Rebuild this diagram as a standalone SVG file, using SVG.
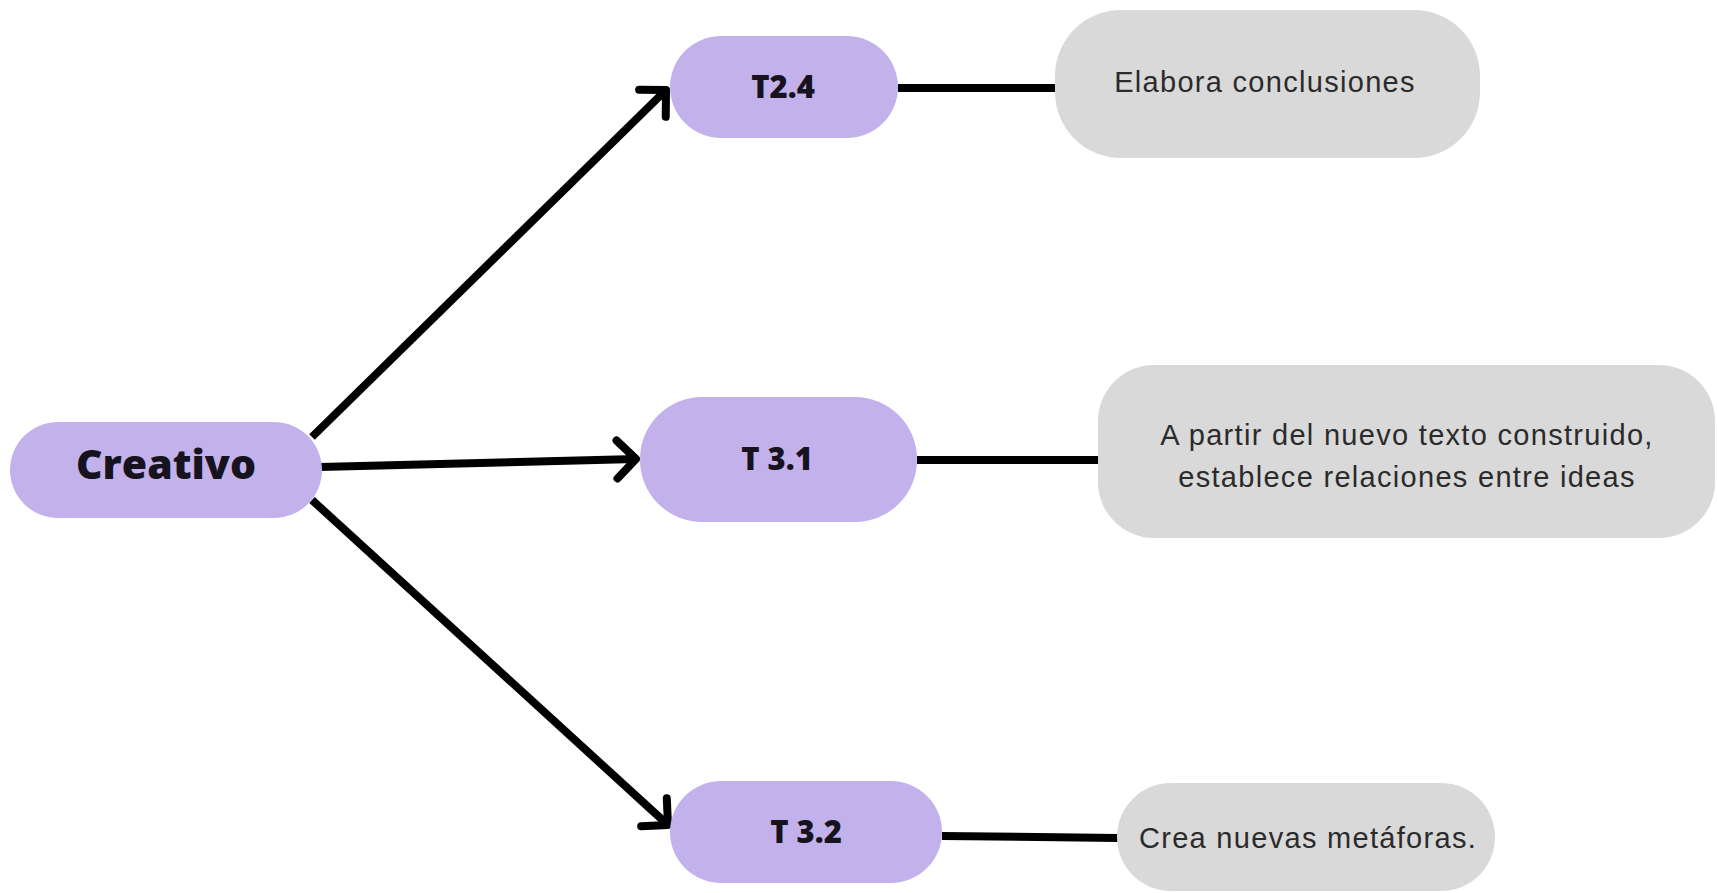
<svg xmlns="http://www.w3.org/2000/svg" width="1717" height="893" viewBox="0 0 1717 893">
  <style>
    .main { fill: #C3B1EC; }
    .leaf { fill: #D9D9D9; }
    .lbl { font-family: "Open Sans", "Noto Sans", sans-serif; font-weight: 800; fill: #16121E; text-anchor: middle; }
    .desc { font-family: "Liberation Sans", Arial, sans-serif; font-size: 29px; letter-spacing: 1.3px; fill: #2B2B2B; text-anchor: middle; }
    .conn { stroke: #000; stroke-width: 8; fill: none; stroke-linecap: butt; }
  </style>
  <defs>
    <marker id="chev" markerUnits="userSpaceOnUse" orient="auto" refX="0" refY="0" markerWidth="60" markerHeight="60" viewBox="-30 -30 60 60" overflow="visible">
      <path d="M-19,-19 L0,0 L-19,19" fill="none" stroke="#000" stroke-width="8" stroke-linecap="round" stroke-linejoin="round"/>
    </marker>
  </defs>
  <rect width="1717" height="893" fill="#fff"/>

  <g id="connectors">
    <line class="conn" x1="312" y1="437" x2="666" y2="90" marker-end="url(#chev)"/>
    <line class="conn" x1="320" y1="467" x2="636" y2="459" marker-end="url(#chev)"/>
    <line class="conn" x1="312" y1="500" x2="668" y2="825" marker-end="url(#chev)"/>
    <line class="conn" x1="898" y1="88" x2="1056" y2="88"/>
    <line class="conn" x1="917" y1="460" x2="1099" y2="460"/>
    <line class="conn" x1="942" y1="836" x2="1118" y2="838"/>
  </g>

  <g id="creativo">
    <rect class="main" x="10" y="422" width="312" height="96" rx="48"/>
    <text class="lbl" x="166" y="479" font-size="41">Creativo</text>
  </g>

  <g id="t24">
    <rect class="main" x="670" y="36" width="228" height="102" rx="51"/>
    <text class="lbl" x="783" y="98" font-size="31">T2.4</text>
  </g>

  <g id="t31">
    <rect class="main" x="640" y="397" width="277" height="125" rx="62"/>
    <text class="lbl" x="777" y="470" font-size="31">T 3.1</text>
  </g>

  <g id="t32">
    <rect class="main" x="670" y="781" width="272" height="102" rx="51"/>
    <text class="lbl" x="806" y="843" font-size="31">T 3.2</text>
  </g>

  <g id="elabora">
    <rect class="leaf" x="1055" y="10" width="425" height="148" rx="66"/>
    <text class="desc" x="1265" y="92">Elabora conclusiones</text>
  </g>

  <g id="apartir">
    <rect class="leaf" x="1098" y="365" width="617" height="173" rx="56"/>
    <text class="desc" x="1407" y="445">A partir del nuevo texto construido,</text>
    <text class="desc" x="1407" y="487">establece relaciones entre ideas</text>
  </g>

  <g id="crea">
    <rect class="leaf" x="1117" y="783" width="378" height="108" rx="54"/>
    <text class="desc" x="1308" y="848">Crea nuevas metáforas.</text>
  </g>
</svg>
